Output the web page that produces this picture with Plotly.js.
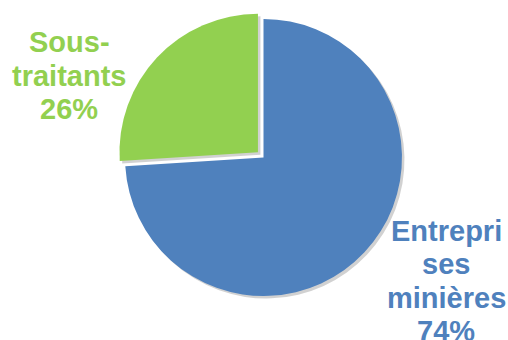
<!DOCTYPE html>
<html>
<head>
<meta charset="utf-8">
<script src="https://cdn.plot.ly/plotly-3.0.1.min.js"></script>
<style>html,body{margin:0;padding:0;background:#fff;}#chart{width:508px;height:340px;}</style>
</head>
<body>
<div id="chart"></div>
<script>
// Data
var categories = ["Entreprises minières", "Sous-traitants"];
var shares = [74, 26];
var sliceColors = ["#4F81BD", "#92D050"];
var labelLines = [["Entrepri", "ses", "minières"], ["Sous-", "traitants"]];
var slicePull = [0, 0.055];

// Label placement (layout only)
var labelCenters = [{x: 446, y: 230.7}, {x: 69, y: 42.3}];
var lineStep = 33.5;
var W = 508, H = 340;

var annotations = [];
categories.forEach(function (c, i) {
  var lines = labelLines[i].concat([shares[i] + "%"]);
  lines.forEach(function (t, j) {
    annotations.push({
      xref: "paper", yref: "paper",
      x: labelCenters[i].x / W,
      y: 1 - (labelCenters[i].y + j * lineStep) / H,
      xanchor: "center", yanchor: "middle",
      text: "<b>" + t + "</b>",
      showarrow: false,
      font: {family: "Liberation Sans, Arial, sans-serif", size: 29, color: sliceColors[i]}
    });
  });
});

var shadow = {
  type: "pie",
  labels: categories,
  values: shares,
  sort: false,
  direction: "clockwise",
  rotation: 0,
  pull: slicePull,
  textinfo: "none",
  hoverinfo: "skip",
  showlegend: false,
  marker: {colors: ["rgba(0,0,0,0.18)", "rgba(0,0,0,0.18)"], line: {width: 0}},
  domain: {x: [(117.4 + 2.5) / W, (409.6 + 2.5) / W], y: [1 - (303.6 + 2.5) / H, 1 - (11.4 + 2.5) / H]}
};

var pie = {
  type: "pie",
  labels: categories,
  values: shares,
  sort: false,
  direction: "clockwise",
  rotation: 0,
  pull: slicePull,
  textinfo: "none",
  hoverinfo: "label+percent",
  showlegend: false,
  marker: {colors: sliceColors, line: {width: 0}},
  domain: {x: [117.4 / W, 409.6 / W], y: [1 - 303.6 / H, 1 - 11.4 / H]}
};

Plotly.newPlot("chart", [shadow, pie], {
  width: W, height: H,
  margin: {l: 0, r: 0, t: 0, b: 0},
  paper_bgcolor: "#ffffff",
  showlegend: false,
  annotations: annotations
}, {displayModeBar: false, staticPlot: true});
</script>
</body>
</html>
